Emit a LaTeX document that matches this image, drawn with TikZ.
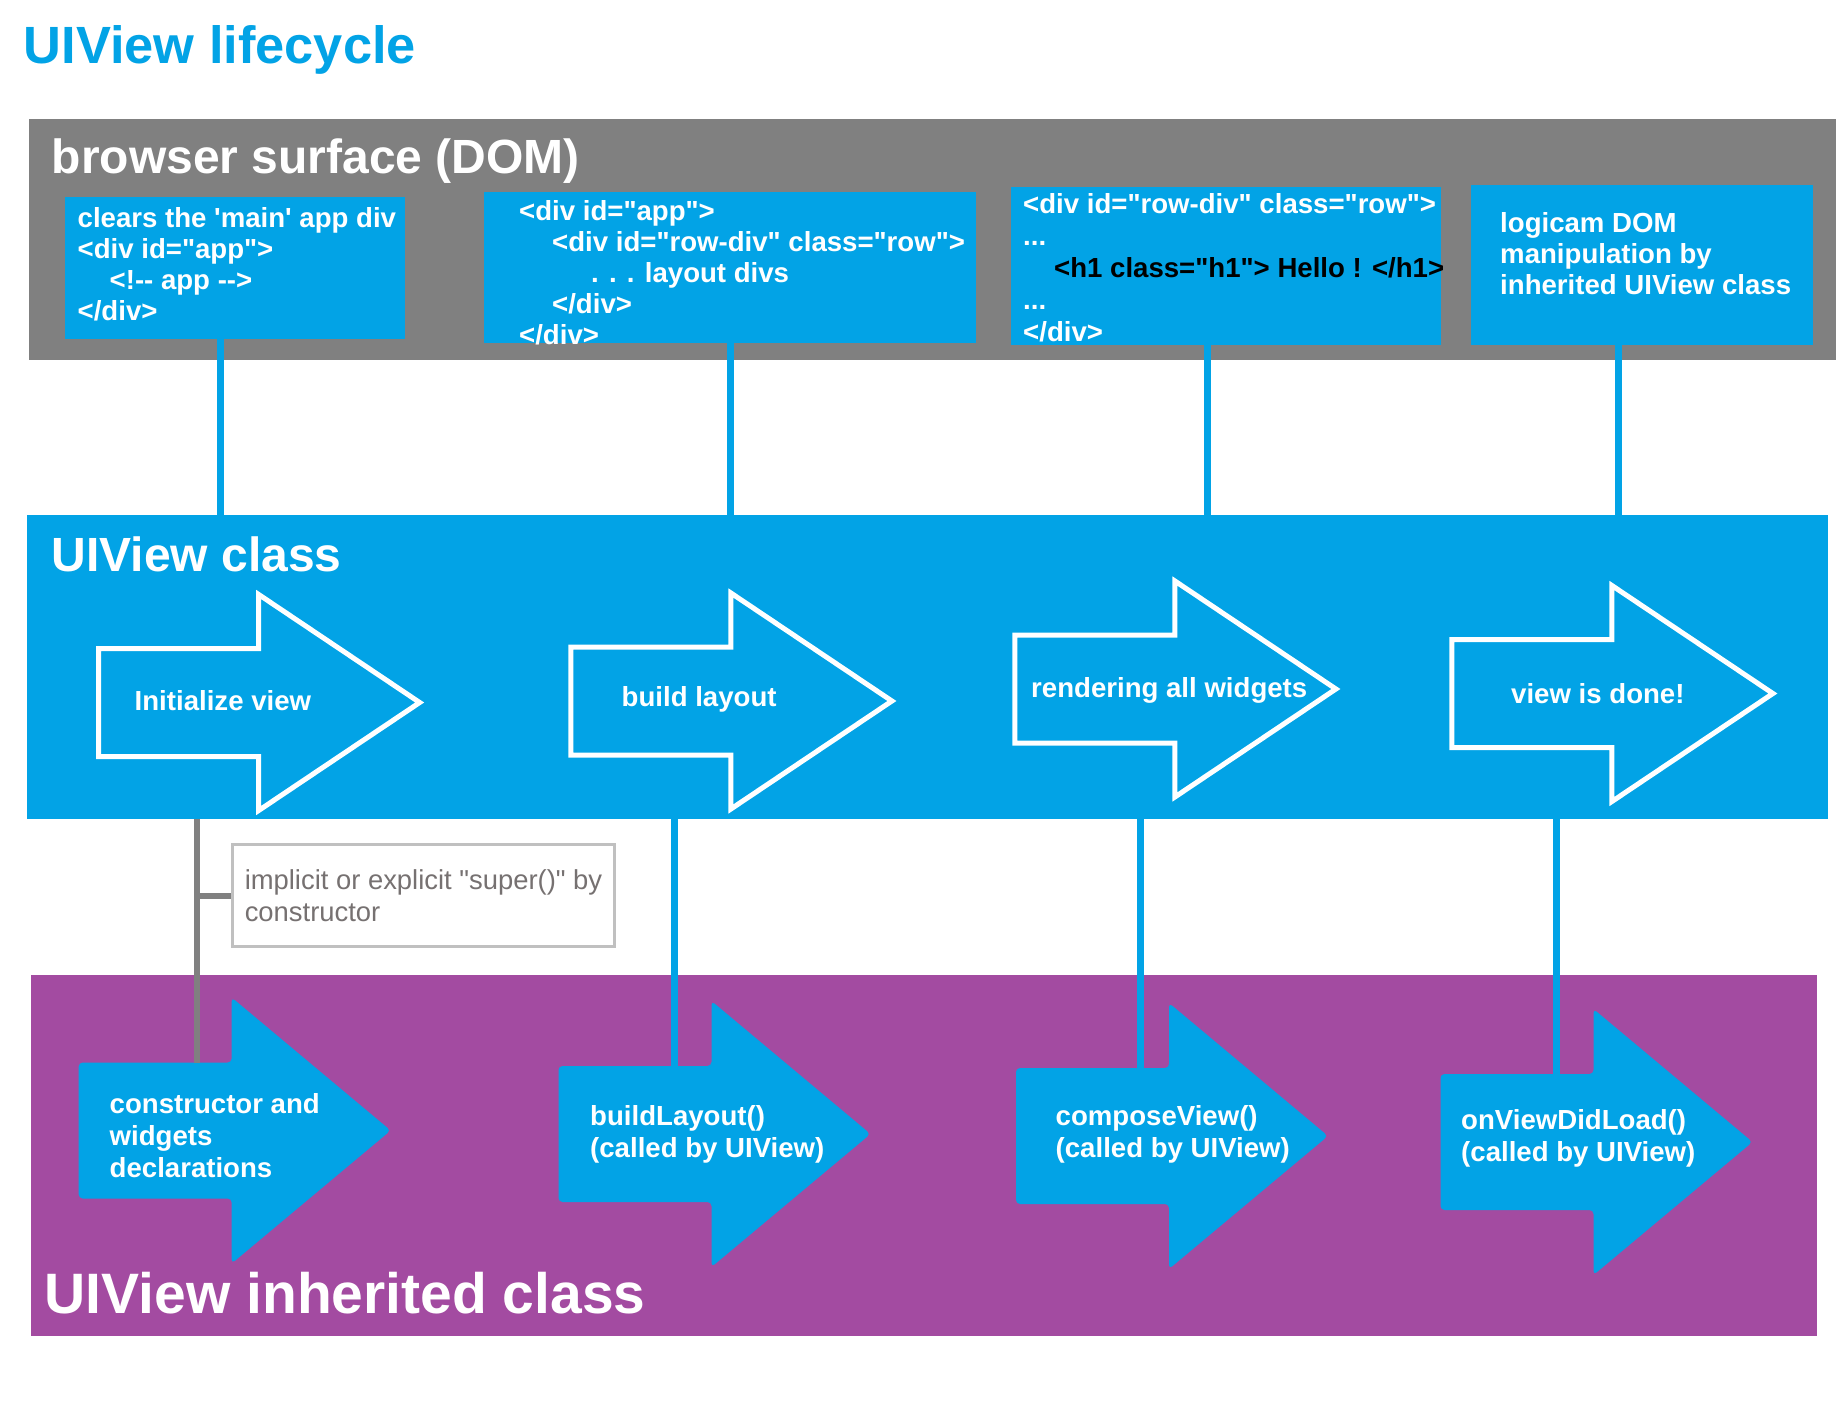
\documentclass[tikz,border=0pt]{standalone}
\usepackage{fontspec}
\setmainfont{Liberation Sans}[Ligatures=TeXOff]
\usepackage{tikz}
\usetikzlibrary{calc}
\definecolor{uiblue}{RGB}{2,163,230}
\definecolor{inhpurple}{RGB}{163,75,161}
\definecolor{domgray}{RGB}{128,128,128}
\definecolor{noteline}{RGB}{192,192,192}
\definecolor{notetext}{RGB}{118,113,113}

\begin{document}
\begin{tikzpicture}[x=1pt,y=-1pt,
    band/.style={rectangle,inner sep=0pt,anchor=north west},
    dombox/.style={rectangle,fill=uiblue,inner sep=0pt,anchor=north west},
    domcode/.style={anchor=north west,inner sep=0pt,align=left,text=white,
      font=\fontsize{27.6}{31}\selectfont\bfseries},
    bandtitle/.style={anchor=base west,inner sep=0pt,text=white,
      font=\fontsize{48}{48}\selectfont\bfseries},
    stepout/.style={draw=white,line width=5pt,fill=uiblue},
    stepfill/.style={fill=uiblue,rounded corners=4pt},
    steplabel/.style={anchor=base west,inner sep=0pt,text=white,
      font=\fontsize{27.6}{31}\selectfont\bfseries},
    hooklabel/.style={anchor=north west,inner sep=0pt,align=left,text=white,
      font=\fontsize{27.6}{32}\selectfont\bfseries},
    vlink/.style={uiblue,line width=7pt},
    glink/.style={domgray,line width=6pt}]
\path[use as bounding box,fill=white] (0,0) rectangle (1842,1402);
% title
\node[anchor=base west,inner sep=0pt,text=uiblue,
  font=\fontsize{52.4}{52}\selectfont\bfseries] (title) at (23.5,64) {UIView lifecycle};
% the three bands
\node[band,fill=domgray,minimum width=1807,minimum height=241] (dom) at (29,119) {};
\node[band,fill=uiblue,minimum width=1801,minimum height=304] (uiview) at (27,515) {};
\node[band,fill=inhpurple,minimum width=1786,minimum height=361] (inherited) at (31,975) {};
\node[bandtitle] (domtitle) at (51.5,174) {browser surface (DOM)};
\node[bandtitle] (uititle) at (51.5,571) {UIView class};
\node[bandtitle,font=\fontsize{57}{57}\selectfont\bfseries] (inhtitle) at (44.5,1313) {UIView inherited class};
% DOM boxes
\node[dombox,minimum width=340,minimum height=142] (dom1) at (65,197) {};
\node[dombox,minimum width=492,minimum height=151] (dom2) at (484,192) {};
\node[dombox,minimum width=430,minimum height=158] (dom3) at (1011,187) {};
\node[dombox,minimum width=342,minimum height=160] (dom4) at (1471,185) {};
\node[domcode] (code1) at (77.5,207)
  {clears the 'main' app div\\<div id="app">\\\hspace*{32pt}<!-- app -->\\</div>};
\node[domcode] (code2) at (519,200)
  {<div id="app">\\\hspace*{33pt}<div id="row-div" class="row">\\\hspace*{72pt}. . . layout divs\\\hspace*{33pt}</div>\\</div>};
\node[domcode,font=\fontsize{27.6}{32}\selectfont\bfseries] (code3) at (1023,193)
  {<div id="row-div" class="row">\\...\\\hspace*{31pt}\textcolor{black}{<h1 class="h1"> Hello ! </h1>}\\...\\</div>};
\node[domcode] (code4) at (1500,212)
  {logicam DOM\\manipulation by\\inherited UIView class};
% DOM boxes -> UIView class
\foreach \x/\n in {220.8/dom1,730.7/dom2,1207.6/dom3,1618.7/dom4}
  \draw[vlink] (\x,0 |- \n.south) -- (\x,0 |- uiview.north);
% UIView class steps (outlined arrows)
\foreach \n/\l/\c/\tx/\ty/\t in {init/98.7/702.5/134.5/710/Initialize view,
    build/570.9/701/621.5/706.5/build layout,
    render/1014.9/689/1031/697/rendering all widgets,
    done/1451.9/693.5/1511/703/view is done!} {
  \draw[stepout] (\l,\c-54) -- ++(160,0) -- ++(0,-54) -- ++(161,108)
    -- ++(-161,108) -- ++(0,-54) -- ++(-160,0) -- cycle;
  \node[steplabel] (\n) at (\tx,\ty) {\t};
}
% inherited class hooks (filled arrows)
\foreach \n/\l/\c/\tx/\ty/\t in {ctor/78.7/1130.5/109.5/1093/{constructor and\\widgets\\declarations},
    layout/558.5/1134/590/1105/{buildLayout()\\(called by UIView)},
    compose/1016/1136/1055.5/1105/{composeView()\\(called by UIView)},
    loaded/1440.5/1142/1461/1109/{onViewDidLoad()\\(called by UIView)}} {
  \fill[stepfill] (\l,\c-68) coordinate (\n-top) -- ++(153,0) -- ++(0,-65)
    -- ++(159,133) -- ++(-159,133) -- ++(0,-65) -- ++(-153,0) -- cycle;
  \node[hooklabel] (\n) at (\tx,\ty) {\t};
}
% super() note
\node[draw=noteline,line width=3pt,fill=white,minimum width=382,minimum height=102,
  anchor=north west,inner sep=0pt,align=left,text=notetext,
  font=\fontsize{27.4}{32}\selectfont] (note) at (231,843)
  {implicit or explicit "super()" by\\constructor};
% UIView class -> inherited hooks
\draw[glink] (196.6,0 |- uiview.south) -- (196.6,0 |- ctor-top);
\draw[glink] (196.6,0 |- note.west) -- (note.west);
\foreach \x/\n in {674.3/layout,1140.6/compose,1556.5/loaded}
  \draw[vlink] (\x,0 |- uiview.south) -- (\x,0 |- \n-top);
\end{tikzpicture}
\end{document}
